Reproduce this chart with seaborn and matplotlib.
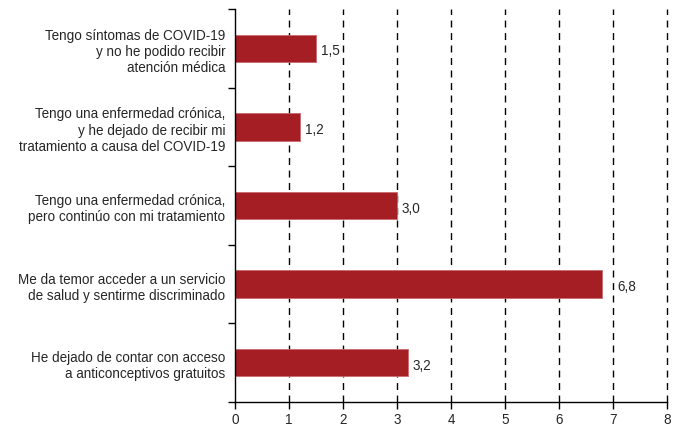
import matplotlib
matplotlib.use("Agg")
import matplotlib.pyplot as plt
import seaborn as sns
import pandas as pd
import math
from matplotlib.ticker import FixedLocator

categories = [
    "Tengo síntomas de COVID-19\ny no he podido recibir\natención médica",
    "Tengo una enfermedad crónica,\ny he dejado de recibir mi\ntratamiento a causa del COVID-19",
    "Tengo una enfermedad crónica,\npero continúo con mi tratamiento",
    "Me da temor acceder a un servicio\nde salud y sentirme discriminado",
    "He dejado de contar con acceso\na anticonceptivos gratuitos",
]
values = [1.5, 1.2, 3.0, 6.8, 3.2]
x_ticks = [0, 1, 2, 3, 4, 5, 6, 7, 8]

sns.set_style("white")
plt.rcParams["font.family"] = ["Liberation Sans", "DejaVu Sans"]

df = pd.DataFrame({"cat": categories, "val": values})

fig = plt.figure(figsize=(6.78, 4.27), dpi=100)
ax = fig.add_axes([235 / 678, 1 - 403 / 427, (667 - 235) / 678, (403 - 10) / 427])

sns.barplot(data=df, x="val", y="cat", orient="h", color="#A51E24", width=0.35,
            saturation=1, edgecolor="#C96A6E", linewidth=0.6, ax=ax, zorder=3)

ax.set_xlim(0, 8)
ax.set_ylim(4.5, -0.5)
ax.set_xticks(x_ticks)
ax.set_xticklabels([str(t) for t in x_ticks], fontsize=9.75)
ax.set_xlabel("")
ax.set_ylabel("")
ax.tick_params(axis="y", which="major", length=0, labelsize=9.75, pad=7)
ax.yaxis.set_minor_locator(FixedLocator([-0.5, 0.5, 1.5, 2.5, 3.5, 4.5]))
ax.tick_params(axis="y", which="minor", length=5, width=1, color="black", direction="out", left=True)
ax.tick_params(axis="x", which="major", length=5, width=1, color="black", direction="out", bottom=True, pad=2)
for lbl in ax.get_yticklabels():
    lbl.set_horizontalalignment("right")
    lbl.set_multialignment("right")

for t in x_ticks[1:]:
    ax.axvline(t, color="black", linestyle=(0, (5, 4)), linewidth=1, zorder=1, clip_on=False)

for s in ["top", "right"]:
    ax.spines[s].set_visible(False)
for s in ["left", "bottom"]:
    ax.spines[s].set_color("black")
    ax.spines[s].set_linewidth(1)
    ax.spines[s].set_zorder(4)

for i, v in enumerate(values):
    xpos = v
    nxt = math.ceil(v)
    if 0 < nxt - v < 0.3:
        xpos = nxt
    ax.annotate(f"{v:.1f}".replace(".", ","), xy=(xpos, i), xytext=(3.5, -1.5),
                textcoords="offset points", va="center", ha="left", fontsize=9.75)

fig.savefig("out.png", dpi=100)
